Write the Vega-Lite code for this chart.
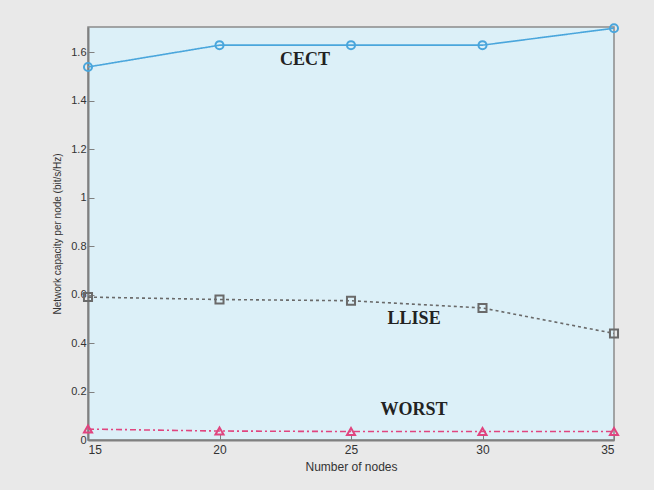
{
  "$schema": "https://vega.github.io/schema/vega-lite/v6.json",
  "autosize": "none",
  "width": 526,
  "height": 413,
  "padding": {"left": 88, "top": 27, "right": 40, "bottom": 50},
  "background": "#e9e9e9",
  "config": {
    "view": {"fill": "#dcf0f8", "stroke": "#8a8a8a", "strokeWidth": 1.5},
    "axis": {"grid": false, "domainColor": "#808080", "domainWidth": 2, "tickColor": "#808080", "labelColor": "#333333", "titleColor": "#333333", "labelFont": "Liberation Sans Narrow, Liberation Sans", "titleFont": "Liberation Sans Narrow, Liberation Sans", "titleFontWeight": "normal"}
  },
  "datasets": {
    "series": [
      {"nodes": 15, "capacity": 1.54, "scheme": "CECT"},
      {"nodes": 20, "capacity": 1.63, "scheme": "CECT"},
      {"nodes": 25, "capacity": 1.63, "scheme": "CECT"},
      {"nodes": 30, "capacity": 1.63, "scheme": "CECT"},
      {"nodes": 35, "capacity": 1.70, "scheme": "CECT"},
      {"nodes": 15, "capacity": 0.59, "scheme": "LLISE"},
      {"nodes": 20, "capacity": 0.58, "scheme": "LLISE"},
      {"nodes": 25, "capacity": 0.575, "scheme": "LLISE"},
      {"nodes": 30, "capacity": 0.545, "scheme": "LLISE"},
      {"nodes": 35, "capacity": 0.44, "scheme": "LLISE"},
      {"nodes": 15, "capacity": 0.045, "scheme": "WORST"},
      {"nodes": 20, "capacity": 0.037, "scheme": "WORST"},
      {"nodes": 25, "capacity": 0.035, "scheme": "WORST"},
      {"nodes": 30, "capacity": 0.035, "scheme": "WORST"},
      {"nodes": 35, "capacity": 0.035, "scheme": "WORST"}
    ],
    "labels": [
      {"nodes": 23.25, "capacity": 1.57, "text": "CECT"},
      {"nodes": 27.4, "capacity": 0.5, "text": "LLISE"},
      {"nodes": 27.4, "capacity": 0.125, "text": "WORST"}
    ]
  },
  "encoding": {
    "x": {"field": "nodes", "type": "quantitative", "scale": {"domain": [15, 35], "nice": false, "zero": false},
      "axis": {"values": [15, 20, 25, 30, 35], "title": "Number of nodes", "labelFontSize": 12, "titleFontSize": 12, "tickSize": -6, "labelPadding": 10, "titlePadding": 6}},
    "y": {"field": "capacity", "type": "quantitative", "scale": {"domain": [0, 1.705], "nice": false},
      "axis": {"values": [0, 0.2, 0.4, 0.6, 0.8, 1, 1.2, 1.4, 1.6], "format": "~g", "title": "Network capacity per node (bit/s/Hz)", "labelFontSize": 11, "titleFontSize": 10, "tickSize": -6, "labelPadding": 8, "titlePadding": 8}}
  },
  "layer": [
    {
      "data": {"name": "series"},
      "mark": {"type": "line", "strokeWidth": 1.6, "clip": false},
      "encoding": {
        "color": {"field": "scheme", "type": "nominal", "scale": {"domain": ["CECT", "LLISE", "WORST"], "range": ["#4aa6dc", "#6a6a6a", "#e0457f"]}, "legend": null},
        "strokeDash": {"field": "scheme", "type": "nominal", "scale": {"domain": ["CECT", "LLISE", "WORST"], "range": [[1, 0], [3, 3], [6, 3, 2, 3]]}, "legend": null}
      }
    },
    {
      "data": {"name": "series"},
      "mark": {"type": "point", "filled": false, "size": 65, "strokeWidth": 2, "clip": false, "opacity": 1},
      "encoding": {
        "color": {"field": "scheme", "type": "nominal", "scale": {"domain": ["CECT", "LLISE", "WORST"], "range": ["#4aa6dc", "#6a6a6a", "#e0457f"]}, "legend": null},
        "shape": {"field": "scheme", "type": "nominal", "scale": {"domain": ["CECT", "LLISE", "WORST"], "range": ["circle", "square", "triangle-up"]}, "legend": null}
      }
    },
    {
      "data": {"name": "labels"},
      "mark": {"type": "text", "font": "Liberation Serif", "fontWeight": "bold", "fontSize": 18, "color": "#222222"},
      "encoding": {"text": {"field": "text"}}
    }
  ]
}
